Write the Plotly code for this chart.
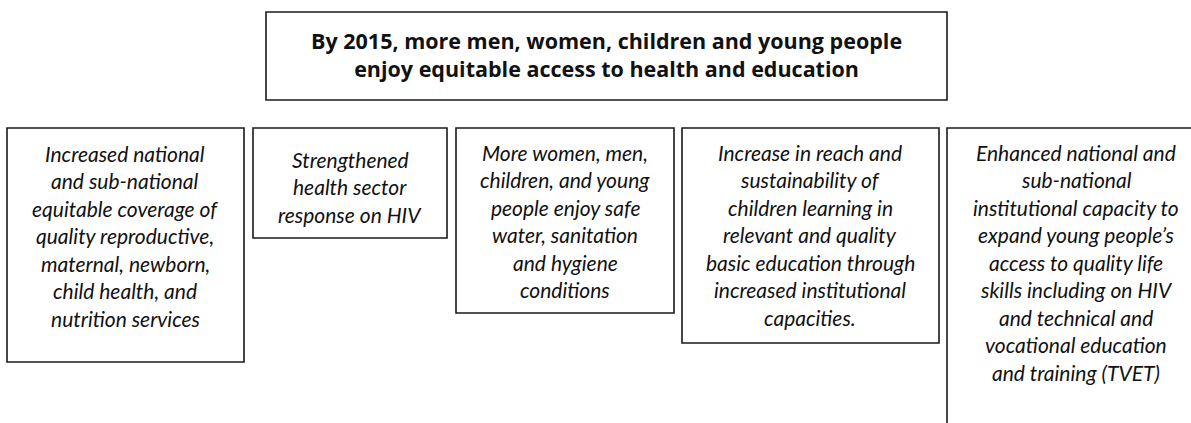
import plotly.graph_objects as go

# ---- content ----
title_lines = [
    "By 2015, more men, women, children and young people",
    "enjoy equitable access to health and education",
]
outcome_1 = ["Increased national", "and sub-national", "equitable coverage of",
             "quality reproductive,", "maternal, newborn,", "child health, and",
             "nutrition services"]
outcome_2 = ["Strengthened", "health sector", "response on HIV"]
outcome_3 = ["More women, men,", "children, and young", "people enjoy safe",
             "water, sanitation", "and hygiene", "conditions"]
outcome_4 = ["Increase in reach and", "sustainability of", "children learning in",
             "relevant and quality", "basic education through",
             "increased institutional", "capacities."]
outcome_5 = ["Enhanced national and", "sub-national", "institutional capacity to",
             "expand young people\u2019s", "access to quality life",
             "skills including on HIV", "and technical and",
             "vocational education", "and training (TVET)"]
outcomes = [outcome_1, outcome_2, outcome_3, outcome_4, outcome_5]

# ---- layout (pixel space) ----
W, H = 1191, 423
title_box = (266, 12, 947, 100)
title_center_y = 54
box_left = [7, 253, 456, 682, 947]
box_right = [244, 447, 674, 939, 1215]
box_top = [128, 128, 128, 128, 128]
box_bottom = [362, 238, 313, 343, 440]
first_line_y = [153, 159, 152, 152, 152]
text_center_x = [125, 350, 565, 810, 1076]
line_gap = 27.5

BODY_FONT = "Lato"
TITLE_FONT = "Open Sans"
fig = go.Figure()

shapes = []
annotations = []
lw = 1.6
col = "#1a1a1a"
shapes.append(dict(type="rect", xref="x", yref="y",
                   x0=title_box[0], y0=title_box[1], x1=title_box[2], y1=title_box[3],
                   line=dict(color=col, width=lw), fillcolor="rgba(0,0,0,0)"))
tcx = (title_box[0] + title_box[2]) / 2
annotations.append(dict(x=tcx, y=title_center_y, xref="x", yref="y",
                        text="<br>".join("<b>" + ln + "</b>" for ln in title_lines),
                        showarrow=False, xanchor="center", yanchor="middle", align="center",
                        font=dict(family=TITLE_FONT, size=21.5, color="#111")))

for i, lines in enumerate(outcomes):
    shapes.append(dict(type="rect", xref="x", yref="y",
                       x0=box_left[i], y0=box_top[i], x1=box_right[i], y1=box_bottom[i],
                       line=dict(color=col, width=lw), fillcolor="rgba(0,0,0,0)"))
    for j, ln in enumerate(lines):
        annotations.append(dict(x=text_center_x[i], y=first_line_y[i] + j * line_gap,
                                xref="x", yref="y", text="<i>" + ln + "</i>",
                                showarrow=False, xanchor="center", yanchor="middle",
                                font=dict(family=BODY_FONT, size=21, color="#111")))

fig.update_layout(
    width=W, height=H,
    margin=dict(l=0, r=0, t=0, b=0),
    paper_bgcolor="white", plot_bgcolor="white",
    xaxis=dict(range=[0, W], visible=False, fixedrange=True),
    yaxis=dict(range=[H, 0], visible=False, fixedrange=True),
    shapes=shapes, annotations=annotations,
    showlegend=False,
)
fig.write_html("out.html", config={"displayModeBar": False},
               post_script="document.body.style.margin='0';document.body.style.overflow='hidden';")
